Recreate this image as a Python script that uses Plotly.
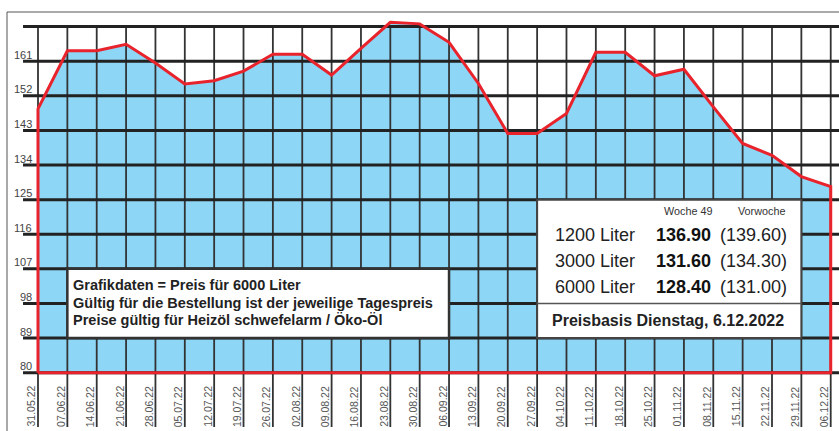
import plotly.graph_objects as go

# ---------------- data ----------------
dates = ["31.05.22", "07.06.22", "14.06.22", "21.06.22", "28.06.22", "05.07.22",
         "12.07.22", "19.07.22", "26.07.22", "02.08.22", "09.08.22", "16.08.22",
         "23.08.22", "30.08.22", "06.09.22", "13.09.22", "20.09.22", "27.09.22",
         "04.10.22", "11.10.22", "18.10.22", "25.10.22", "01.11.22", "08.11.22",
         "15.11.22", "22.11.22", "29.11.22", "06.12.22"]
prices = [148.6, 163.7, 163.7, 165.4, 160.5, 155.1, 155.9, 158.4, 162.8, 162.8,
          157.4, 164.3, 171.1, 170.7, 165.9, 155.2, 142.2, 142.2, 147.4, 163.3,
          163.3, 157.2, 158.9, 149.1, 139.6, 136.5, 131.0, 128.4]
y_ticks = [80, 89, 98, 107, 116, 125, 134, 143, 152, 161]
y_grid = [80, 89, 98, 107, 116, 125, 134, 143, 152, 161, 170]

info_lines = ["Grafikdaten = Preis für 6000 Liter",
              "Gültig für die Bestellung ist der jeweilige Tagespreis",
              "Preise gültig für Heizöl schwefelarm / Öko-Öl"]
col_heads = ["Woche 49", "Vorwoche"]
sizes = ["1200 Liter", "3000 Liter", "6000 Liter"]
price_now = [136.90, 131.60, 128.40]
price_prev = [139.60, 134.30, 131.00]
basis_text = "Preisbasis Dienstag, 6.12.2022"

# ---------------- geometry / style ----------------
W, H = 839, 431
FONT = "Liberation Sans, Arial, sans-serif"
BLUE = "#8dd6f6"
RED = "#e8232b"
n = len(dates)
xs = list(range(n))
ymin, ymax = y_grid[0], y_grid[-1]

def px(p):
    return p / W

def py(q):
    return 1 - q / H

# closed outline polygon (baseline -> curve -> baseline)
poly_x = [0] + xs + [n - 1, 0]
poly_y = [ymin] + prices + [ymin, ymin]

fig = go.Figure()

# blue area
fig.add_trace(go.Scatter(x=poly_x, y=poly_y, mode="lines", fill="toself",
                         fillcolor=BLUE, line=dict(width=0), hoverinfo="skip"))

# vertical grid lines / tick lines
vx, vy = [], []
for i in xs:
    vx += [i, i, None]
    vy += [65.9, ymax, None]
fig.add_trace(go.Scatter(x=vx, y=vy, mode="lines",
                         line=dict(color="#333333", width=1.8), hoverinfo="skip"))

# horizontal grid lines
hx, hy = [], []
for v in y_grid:
    hx += [-0.51, 27.4, None]
    hy += [v, v, None]
fig.add_trace(go.Scatter(x=hx, y=hy, mode="lines",
                         line=dict(color="#222222", width=3), hoverinfo="skip"))

# red outline
fig.add_trace(go.Scatter(x=poly_x, y=poly_y, mode="lines",
                         line=dict(color=RED, width=3), hoverinfo="skip"))

shapes = []
# outer frame (top + left)
shapes.append(dict(type="line", xref="paper", yref="paper", x0=px(7), x1=1.0,
                   y0=py(12), y1=py(12), line=dict(color="#555555", width=1)))
shapes.append(dict(type="line", xref="paper", yref="paper", x0=px(7), x1=px(7),
                   y0=py(12), y1=0, line=dict(color="#555555", width=1)))
# info box
shapes.append(dict(type="rect", xref="x", yref="y", x0=1, x1=14, y0=89, y1=107,
                   fillcolor="white", line=dict(color="#333333", width=2.5),
                   layer="above"))
# price box
shapes.append(dict(type="rect", xref="x", yref="y", x0=17, x1=26, y0=89, y1=125,
                   fillcolor="white", line=dict(color="#444444", width=2),
                   layer="above"))
shapes.append(dict(type="line", xref="x", yref="y", x0=17, x1=26, y0=98, y1=98,
                   line=dict(color="#555555", width=1.5), layer="above"))

ann = []
# y tick labels
for v in y_ticks:
    ann.append(dict(x=px(34), xref="paper", y=v, yref="y", text=str(v),
                    showarrow=False, xanchor="right", yanchor="middle", yshift=6.5,
                    font=dict(family=FONT, size=11, color="#444444")))
# date labels
for i, d in enumerate(dates):
    ann.append(dict(x=i, xref="x", y=71.2, yref="y", text=d, showarrow=False,
                    textangle=-90, xanchor="center", yanchor="middle", xshift=-7,
                    font=dict(family=FONT, size=10.5, color="#555555")))
# info box text
for t, q in zip(info_lines, [285.3, 302.6, 320.0]):
    ann.append(dict(x=px(70.5), xref="paper", y=py(q), yref="paper",
                    text="<b>" + t + "</b>",
                    showarrow=False, xanchor="left", yanchor="middle",
                    font=dict(family=FONT, size=14.5, color="#222222")))
# price box headers
for t, cx in zip(col_heads, [687.5, 761.0]):
    ann.append(dict(x=px(cx), xref="paper", y=py(211.5), yref="paper", text=t,
                    showarrow=False, xanchor="center", yanchor="middle",
                    font=dict(family=FONT, size=10.8, color="#333333")))
# price rows
for s, a, b, q in zip(sizes, price_now, price_prev, [235.0, 260.5, 286.5]):
    ann.append(dict(x=px(553), xref="paper", y=py(q), yref="paper", text=s,
                    showarrow=False, xanchor="left", yanchor="middle",
                    font=dict(family=FONT, size=18, color="#222222")))
    ann.append(dict(x=px(713), xref="paper", y=py(q), yref="paper",
                    text="<b>%.2f</b>" % a, showarrow=False, xanchor="right",
                    yanchor="middle", font=dict(family=FONT, size=18, color="#111111")))
    ann.append(dict(x=px(718), xref="paper", y=py(q), yref="paper",
                    text="(%.2f)" % b, showarrow=False, xanchor="left",
                    yanchor="middle", font=dict(family=FONT, size=18, color="#222222")))
ann.append(dict(x=px(668), xref="paper", y=py(320.5), yref="paper",
                text="<b>" + basis_text + "</b>", showarrow=False,
                xanchor="center", yanchor="middle",
                font=dict(family=FONT, size=16, color="#222222")))

x0_rng = -38 / 29.36
x1_rng = (W - 38) / 29.36
pxu = 3.846
y0_rng = 80 - (H - 372.7) / pxu
y1_rng = 80 + 372.7 / pxu

fig.update_layout(
    width=W, height=H,
    margin=dict(l=0, r=0, t=0, b=0),
    paper_bgcolor="white", plot_bgcolor="white",
    showlegend=False,
    xaxis=dict(range=[x0_rng, x1_rng], visible=False, fixedrange=True),
    yaxis=dict(range=[y0_rng, y1_rng], visible=False, fixedrange=True),
    shapes=shapes, annotations=ann,
)

fig.write_html("out.html", config=dict(displayModeBar=False),
               post_script="document.body.style.margin='0';document.body.style.overflow='hidden';")
